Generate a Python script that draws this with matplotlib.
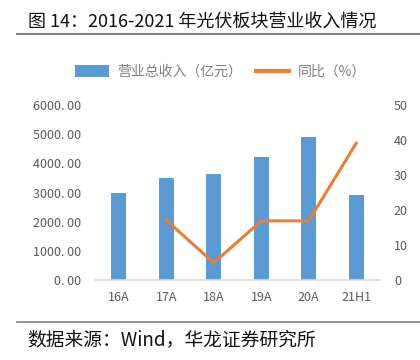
import matplotlib
matplotlib.use("Agg")
import matplotlib.pyplot as plt
from matplotlib.patches import Patch
from matplotlib.lines import Line2D

plt.rcParams['font.family'] = ['Noto Sans CJK SC', 'DejaVu Sans']

categories = ['16A', '17A', '18A', '19A', '20A', '21H1']
revenue = [2980, 3490, 3630, 4210, 4900, 2910]
yoy = [None, 17.1, 4.9, 16.9, 16.9, 39.1]
left_ticks = [0, 1000, 2000, 3000, 4000, 5000, 6000]
right_ticks = [0, 10, 20, 30, 40, 50]

blue = '#5B9BD5'
orange = '#ED7D31'
gray_txt = '#595959'

fig = plt.figure(figsize=(4.2, 3.6), dpi=100)
ax = fig.add_axes([95/420, 1-280/360, (380-95)/420, (280-105)/360])
x = list(range(len(categories)))
ax.bar(x, revenue, width=0.32, color=blue, zorder=2)
ax.set_xlim(-0.5, 5.5)
ax.set_ylim(0, 6000)
ax.set_yticks(left_ticks)
ax.set_yticklabels([f'{v:.2f}'.replace('.', '. ') for v in left_ticks])
ax.set_xticks(x)
ax.set_xticklabels(categories)
for s in ['top', 'right', 'left']:
    ax.spines[s].set_visible(False)
ax.spines['bottom'].set_color('#D9D9D9')
ax.spines['bottom'].set_linewidth(1.2)
ax.tick_params(axis='both', length=0, colors=gray_txt, labelsize=9)
ax.tick_params(axis='y', pad=10)
ax.tick_params(axis='x', pad=8)

ax2 = ax.twinx()
xs = [i for i, v in enumerate(yoy) if v is not None]
ys = [v for v in yoy if v is not None]
ax2.plot(xs, ys, color=orange, linewidth=2.2, zorder=3)
ax2.set_ylim(0, 50)
ax2.set_yticks(right_ticks)
for s in ['top', 'right', 'left', 'bottom']:
    ax2.spines[s].set_visible(False)
ax2.tick_params(axis='y', length=0, colors=gray_txt, labelsize=9, pad=10)

handles = [Patch(facecolor=blue, edgecolor='none'),
           Line2D([0], [0], color=orange, linewidth=3)]
fig.legend(handles, ['营业总收入（亿元）', '同比（%）'], loc='center',
           bbox_to_anchor=(0.525, 1-72/360), ncol=2, frameon=False,
           fontsize=10, labelcolor='#7F7F7F', handlelength=2.4, handleheight=0.9,
           columnspacing=1.0, handletextpad=0.6)

fig.text(28/420, 1-22/360, '图 14：2016-2021 年光伏板块营业收入情况',
         fontsize=13, color='#111111', va='center', ha='left')
fig.add_artist(Line2D([17/420, 1], [1-34/360, 1-34/360], color='#808080', linewidth=1.5))
fig.add_artist(Line2D([17/420, 1], [1-322/360, 1-322/360], color='#808080', linewidth=1.2))
fig.text(27/420, 1-340/360, '数据来源：Wind，华龙证券研究所',
         fontsize=13.5, color='#111111', va='center', ha='left')

fig.savefig('out.png', dpi=100)
